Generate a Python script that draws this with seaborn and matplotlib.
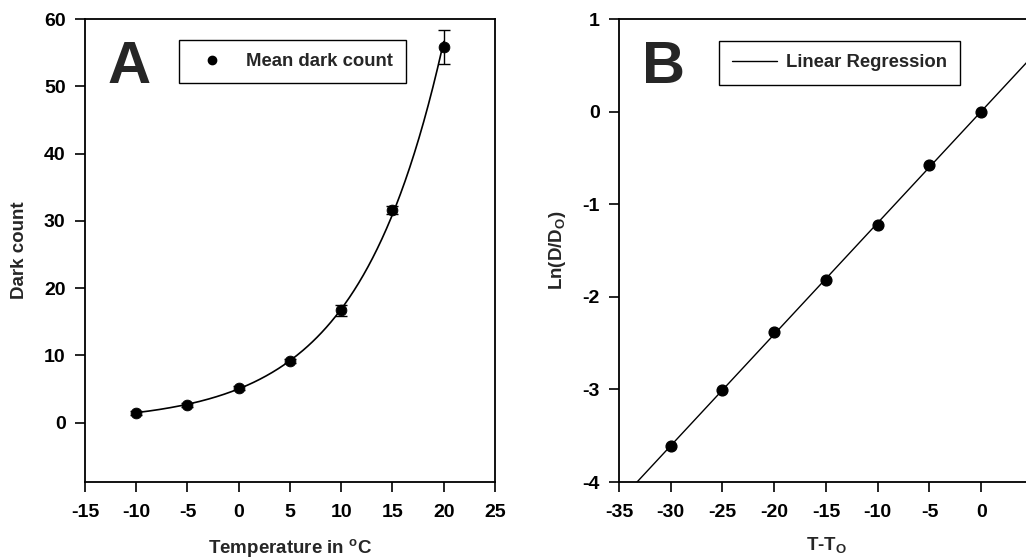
import seaborn as sns
import numpy as np
import matplotlib.pyplot as plt
from matplotlib.lines import Line2D

# panel A: mean dark count vs temperature
temp_c = np.array([-10, -5, 0, 5, 10, 15, 20])
dark_count = np.array([1.5, 2.7, 5.2, 9.2, 16.7, 31.6, 55.8])
dark_err = np.array([0.3, 0.3, 0.3, 0.3, 0.8, 0.6, 2.5])

# panel B: log-normalised dark count vs T - T0
dt = np.array([-30, -25, -20, -15, -10, -5, 0])
ln_ratio = np.array([-3.61, -3.01, -2.38, -1.82, -1.22, -0.58, 0.0])

sns.set_style("ticks")
plt.rcParams['font.family'] = ['Liberation Sans', 'DejaVu Sans']
plt.rcParams['font.weight'] = 'bold'
plt.rcParams['axes.labelweight'] = 'bold'
plt.rcParams['axes.unicode_minus'] = False
plt.rcParams['mathtext.fontset'] = 'custom'
plt.rcParams['mathtext.rm'] = 'Liberation Sans:bold'
plt.rcParams['mathtext.it'] = 'Liberation Sans:bold'
plt.rcParams['mathtext.bf'] = 'Liberation Sans:bold'

fig = plt.figure(figsize=(10.26, 5.58), dpi=100)
ax1 = fig.add_axes([0.0828, 0.1362, 0.3996, 0.8297])
ax2 = fig.add_axes([0.6033, 0.1362, 0.4035, 0.8297])

for ax in (ax1, ax2):
    for sp in ax.spines.values():
        sp.set_linewidth(1.3)
        sp.set_color('black')
    ax.tick_params(direction='out', length=7, width=1.2, labelsize=14, colors='black')
    ax.tick_params(axis='x', pad=9)
    ax.tick_params(axis='y', pad=7)

leg_kw = dict(loc='upper left', frameon=True, fancybox=False, edgecolor='black',
              framealpha=1, prop={'size': 13.3, 'weight': 'bold'}, borderpad=0.72,
              borderaxespad=0)

# --- A ---
ax1.set_xlim(-15, 25)
ax1.set_ylim(-8.8, 60)
# exponential fit through the points (fit in log space)
b, ln_a = np.polyfit(temp_c, np.log(dark_count), 1)
xs = np.linspace(temp_c.min(), temp_c.max(), 200)
sns.lineplot(x=xs, y=np.exp(ln_a + b * xs), ax=ax1, color='black', lw=1.2)
ax1.errorbar(temp_c, dark_count, yerr=dark_err, fmt='none', ecolor='black',
             elinewidth=1, capsize=4, capthick=1)
sns.scatterplot(x=temp_c, y=dark_count, ax=ax1, color='black', s=60,
                edgecolor='black', zorder=5)
ax1.set_xticks(range(-15, 26, 5))
ax1.set_yticks(range(0, 61, 10))
ax1.set_xlabel("Temperature in $^\\mathrm{o}$C", fontsize=13.5)
ax1.set_ylabel("Dark count", fontsize=13.5)
ax1.xaxis.set_label_coords(0.5, -0.118)
ax1.yaxis.set_label_coords(-0.14, 0.5)
ax1.text(0.056, 0.862, "A", transform=ax1.transAxes, fontsize=43,
         fontweight='bold', va='baseline', ha='left')
h1 = Line2D([], [], ls='none', marker='o', color='black', markersize=6)
ax1.legend([h1], ["Mean dark count"], bbox_to_anchor=(0.229, 0.955),
           handlelength=2.1, handletextpad=0.8, **leg_kw).get_frame().set_linewidth(1.0)

# --- B ---
ax2.set_xlim(-35, 5)
ax2.set_ylim(-4, 1)
sns.regplot(x=dt, y=ln_ratio, ax=ax2, ci=None, truncate=False,
            scatter_kws={'color': 'black', 's': 60, 'alpha': 1, 'zorder': 5},
            line_kws={'color': 'black', 'lw': 1.0})
ax2.set_xlim(-35, 5)
ax2.set_ylim(-4, 1)
ax2.set_xticks(range(-35, 1, 5))
ax2.set_yticks(range(-4, 2, 1))
ax2.set_xlabel("T-T$_\\mathrm{O}$", fontsize=13.5)
ax2.set_ylabel("Ln(D/D$_\\mathrm{O}$)", fontsize=13.5)
ax2.xaxis.set_label_coords(0.5, -0.114)
ax2.yaxis.set_label_coords(-0.124, 0.5)
ax2.text(0.055, 0.862, "B", transform=ax2.transAxes, fontsize=43,
         fontweight='bold', va='baseline', ha='left')
h2 = Line2D([], [], color='black', lw=1.0)
ax2.legend([h2], ["Linear Regression"], bbox_to_anchor=(0.2415, 0.9525),
           handlelength=2.4, handletextpad=0.5, **leg_kw).get_frame().set_linewidth(1.0)

for ax in (ax1, ax2):
    for lab in ax.get_xticklabels() + ax.get_yticklabels():
        lab.set_fontweight('bold')

fig.savefig("out.png", dpi=100)
